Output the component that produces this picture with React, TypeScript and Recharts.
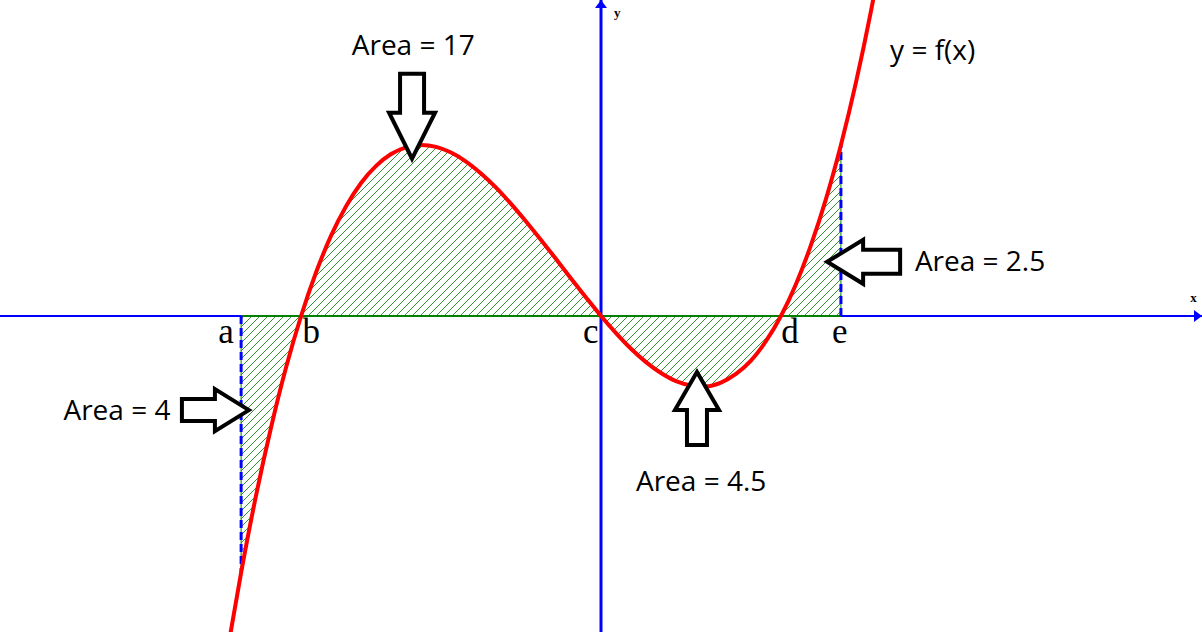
import {
  ComposedChart,
  Line,
  Area,
  XAxis,
  YAxis,
  ReferenceLine,
  ReferenceDot,
} from 'recharts'

// curve y = f(x) (c at the origin, 1 unit = 60px across)
const curveX = [
  -6.2, -6, -5.75, -5.5, -5.25, -5, -4.75, -4.5, -4.25, -4, -3.75, -3.5, -3.25, -3,
  -2.75, -2.5, -2.25, -2, -1.75, -1.5, -1.25, -1, -0.75, -0.5, -0.25, 0, 0.25, 0.5,
  0.75, 1, 1.25, 1.5, 1.75, 2, 2.25, 2.5, 2.75, 3, 3.25, 3.5, 3.75, 4, 4.25, 4.5, 4.6,
]
const curveY = [
  -68.4, -54, -37.7, -23.4, -10.8, 0, 9.2, 16.9, 23.1, 28, 31.6, 34.1, 35.5, 36,
  35.6, 34.4, 32.5, 30, 27, 23.6, 19.9, 16, 12, 7.9, 3.9, 0, -3.6, -6.9,
  -9.7, -12, -13.7, -14.6, -14.8, -14, -12.2, -9.4, -5.3, 0, 6.7, 14.9, 24.6, 36, 49.1, 64.1, 70.7,
]

// points on the x-axis
const pointNames = ['a', 'b', 'c', 'd', 'e']
const pointX = [-6, -5, 0, 3, 4]

// shaded regions between a and e
const areaLabels = ['Area = 4', 'Area = 17', 'Area = 4.5', 'Area = 2.5']

const xLo = pointX[0]
const xHi = pointX[4]
const curveData = curveX.map((x, i) => ({ x, y: curveY[i] }))
const shadedData = curveData.filter(d => d.x >= xLo && d.x <= xHi)
const yAtA = curveY[curveX.indexOf(xLo)]
const yAtE = curveY[curveX.indexOf(xHi)]

const W = 1202
const H = 632
const xDomain = [-10.02, 10.02]
const yDomain = [-66.5, 66.5]

const sansFont = '"Open Sans", "Liberation Sans", sans-serif'
const serifFont = '"Liberation Serif", "DejaVu Serif", serif'

type Dir = 'up' | 'down' | 'left' | 'right'

// hollow block arrow, tip at (cx, cy)
function blockArrow(dir: Dir, len: number, headLen: number, headHalf: number, shaftHalf: number) {
  return (props: any) => {
    const { cx, cy } = props
    // build pointing right, then rotate
    const pts = [
      [0, 0],
      [-headLen, -headHalf],
      [-headLen, -shaftHalf],
      [-len, -shaftHalf],
      [-len, shaftHalf],
      [-headLen, shaftHalf],
      [-headLen, headHalf],
    ]
    const rot = { right: 0, down: 90, left: 180, up: 270 }[dir]
    return (
      <g transform={`translate(${cx},${cy}) rotate(${rot})`}>
        <polygon
          points={pts.map(p => p.join(',')).join(' ')}
          fill="#fff"
          stroke="#000"
          strokeWidth={4}
          strokeLinejoin="miter"
        />
      </g>
    )
  }
}

function axisHead(dir: Dir) {
  return (props: any) => {
    const { cx, cy } = props
    const rot = { right: 0, down: 90, left: 180, up: 270 }[dir]
    return (
      <g transform={`translate(${cx},${cy}) rotate(${rot})`}>
        <polygon points="0,0 -8,-6 -8,6" fill="#0000ff" />
      </g>
    )
  }
}

function textAt(text: string, size: number, family: string, anchor = 'middle', weight = 'normal') {
  return (props: any) => (
    <text
      x={props.cx}
      y={props.cy}
      textAnchor={anchor}
      fontSize={size}
      fontFamily={family}
      fontWeight={weight}
      fill="#000"
    >
      {text}
    </text>
  )
}

export default function App() {
  return (
    <div style={{ position: 'absolute', left: 0, top: 0, background: '#fff' }}>
      <ComposedChart width={W} height={H} margin={{ top: 0, right: 0, bottom: 0, left: 0 }}>
        <defs>
          <pattern id="hatch" patternUnits="userSpaceOnUse" width={8} height={8}>
            <path
              d="M-2,2 l4,-4 M0,8 l8,-8 M6,10 l4,-4"
              stroke="#1a8a1a"
              strokeWidth={0.9}
              shapeRendering="crispEdges"
            />
          </pattern>
        </defs>
        <XAxis type="number" dataKey="x" domain={xDomain} hide allowDataOverflow />
        <YAxis type="number" dataKey="y" domain={yDomain} hide allowDataOverflow />

        <Area
          data={shadedData}
          dataKey="y"
          type="monotone"
          baseValue={0}
          fill="url(#hatch)"
          fillOpacity={1}
          stroke="none"
          isAnimationActive={false}
        />

        {/* axes */}
        <ReferenceLine y={0} stroke="#0000ff" strokeWidth={2} />
        <ReferenceLine x={0} stroke="#0000ff" strokeWidth={3} />
        <ReferenceDot x={xDomain[1]} y={0} shape={axisHead('right')} />
        <ReferenceDot x={0} y={yDomain[1]} shape={axisHead('up')} />
        <ReferenceDot x={9.88} y={2.9} shape={textAt('x', 13, serifFont, 'middle', 'bold')} />
        <ReferenceDot x={0.27} y={63} shape={textAt('y', 13, serifFont, 'middle', 'bold')} />

        {/* edges of the shaded region */}
        <ReferenceLine segment={[{ x: xLo, y: 0 }, { x: xHi, y: 0 }]} stroke="#008000" strokeWidth={2} />
        <ReferenceLine segment={[{ x: xLo, y: 0 }, { x: xLo, y: yAtA }]} stroke="#008000" strokeWidth={1} />
        <ReferenceLine segment={[{ x: xHi, y: 0 }, { x: xHi, y: yAtE }]} stroke="#008000" strokeWidth={1} />
        <ReferenceLine segment={[{ x: xLo, y: 0 }, { x: xLo, y: yAtA }]} stroke="#0000ff" strokeWidth={3} strokeDasharray="8 4" />
        <ReferenceLine segment={[{ x: xHi, y: 0 }, { x: xHi, y: yAtE }]} stroke="#0000ff" strokeWidth={3} strokeDasharray="8 4" />

        <Line
          data={curveData}
          dataKey="y"
          type="monotone"
          stroke="#ff0000"
          strokeWidth={4}
          dot={false}
          activeDot={false}
          isAnimationActive={false}
        />

        {/* point names */}
        <ReferenceDot x={-6.25} y={-5.7} shape={textAt(pointNames[0], 35, serifFont)} />
        <ReferenceDot x={-4.83} y={-5.7} shape={textAt(pointNames[1], 35, serifFont)} />
        <ReferenceDot x={-0.17} y={-5.7} shape={textAt(pointNames[2], 35, serifFont)} />
        <ReferenceDot x={3.15} y={-5.7} shape={textAt(pointNames[3], 35, serifFont)} />
        <ReferenceDot x={3.98} y={-5.7} shape={textAt(pointNames[4], 35, serifFont)} />

        {/* arrows */}
        <ReferenceDot x={-5.87} y={-19.8} shape={blockArrow('right', 67, 34, 21, 11)} />
        <ReferenceDot x={-3.15} y={33.1} shape={blockArrow('down', 85, 46, 23, 12)} />
        <ReferenceDot x={1.6} y={-11.8} shape={blockArrow('up', 73, 38, 22, 10)} />
        <ReferenceDot x={3.77} y={11.4} shape={blockArrow('left', 73, 36, 22, 12)} />

        {/* labels */}
        <ReferenceDot x={-8.07} y={-21.9} shape={textAt(areaLabels[0], 28, sansFont)} />
        <ReferenceDot x={-3.13} y={54.9} shape={textAt(areaLabels[1], 28, sansFont)} />
        <ReferenceDot x={1.67} y={-36.8} shape={textAt(areaLabels[2], 28, sansFont)} />
        <ReferenceDot x={6.32} y={9.5} shape={textAt(areaLabels[3], 28, sansFont)} />
        <ReferenceDot x={5.53} y={53.9} shape={textAt('y = f(x)', 28, sansFont)} />
      </ComposedChart>
    </div>
  )
}
